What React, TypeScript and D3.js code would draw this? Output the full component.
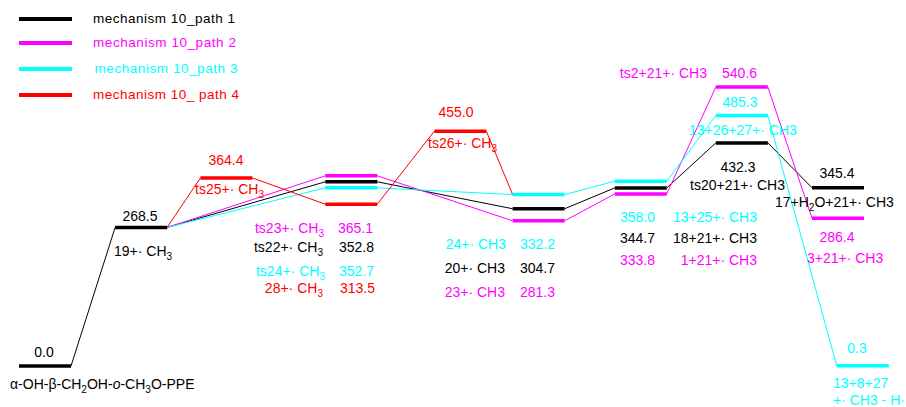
import React from "react";
import * as d3 from "d3";

// ---- data ----
const stageNames = [
  "α-OH-β-CH2OH-o-CH3O-PPE",
  "19+·CH3",
  "ts25+·CH3",
  "ts22/ts23/ts24/28+·CH3",
  "ts26+·CH3",
  "20/23/24+·CH3",
  "18/1/13+21/25+·CH3",
  "ts20/ts2/13+26+27",
  "17+H2O/3+21+·CH3",
  "13+8+27+·CH3-H·",
];
const stageCoord = [0, 0.97, 1.83, 3.09, 4.19, 4.98, 6.01, 7.03, 8, 8.25];

const seriesNames = [
  "mechanism 10_path 1",
  "mechanism 10_path 2",
  "mechanism 10_path 3",
  "mechanism 10_ path 4",
];
const seriesColors = ["#000000", "#ff00ff", "#00ffff", "#ff0000"];

const path1Stages = [0, 1, 3, 5, 6, 7, 8];
const path1Energy = [0.0, 268.5, 352.8, 304.7, 344.7, 432.3, 345.4];
const path2Stages = [0, 1, 3, 5, 6, 7, 8];
const path2Energy = [0.0, 268.5, 365.1, 281.3, 333.8, 540.6, 286.4];
const path3Stages = [0, 1, 3, 5, 6, 7, 9];
const path3Energy = [0.0, 268.5, 352.7, 332.2, 358.0, 485.3, 0.3];
const path4Stages = [0, 1, 2, 3, 4, 5];
const path4Energy = [0.0, 268.5, 364.4, 313.5, 455.0, 332.2];

const seriesStages = [path1Stages, path2Stages, path3Stages, path4Stages];
const seriesEnergy = [path1Energy, path2Energy, path3Energy, path4Energy];

// ---- layout ----
const W = 906;
const H = 407;
const BAR_W = 52;
const MIN_GAP = 6;
const FONT = "'Liberation Sans', Arial, Helvetica, sans-serif";

const x = d3.scaleLinear().domain([0, 8]).range([19, 812]);
const y = d3.scaleLinear().domain([0, 540.6]).range([366, 87]);

type Node = { stage: number; e: number; y: number; color: string };

function buildNodes() {
  const map = new Map<string, Node>();
  seriesStages.forEach((st, si) => {
    st.forEach((s, i) => {
      const k = s + "|" + seriesEnergy[si][i];
      if (!map.has(k))
        map.set(k, { stage: s, e: seriesEnergy[si][i], y: y(seriesEnergy[si][i]), color: seriesColors[si] });
    });
  });
  // separate levels in the same stage that would overlap
  const byStage = d3.group(Array.from(map.values()), (d) => d.stage);
  byStage.forEach((list) => {
    list.sort((a, b) => a.y - b.y);
    for (let it = 0; it < 60; it++) {
      for (let i = 0; i < list.length - 1; i++) {
        const gap = list[i + 1].y - list[i].y;
        if (gap < MIN_GAP) {
          const d = (MIN_GAP - gap) / 2;
          list[i].y -= d;
          list[i + 1].y += d;
        }
      }
    }
  });
  return map;
}

type Seg = string | { sub: string } | { it: string };

function Label({ x, y, anchor = "start", color, segs, size = 14 }: any) {
  const parts: any[] = [];
  let shift = 0;
  const arr: Seg[] = typeof segs === "string" ? [segs] : segs;
  arr.forEach((s, i) => {
    if (typeof s === "string") {
      parts.push(
        <tspan key={i} dy={-shift}>
          {s}
        </tspan>
      );
      shift = 0;
    } else if ("sub" in s) {
      parts.push(
        <tspan key={i} dy={4 - shift} fontSize={size * 0.72}>
          {s.sub}
        </tspan>
      );
      shift = 4;
    } else {
      parts.push(
        <tspan key={i} dy={-shift} fontStyle="italic">
          {s.it}
        </tspan>
      );
      shift = 0;
    }
  });
  return (
    <text x={x} y={y} textAnchor={anchor} fill={color} fontSize={size} fontFamily={FONT}>
      {parts}
    </text>
  );
}

const K = seriesColors[0];
const M = seriesColors[1];
const C = seriesColors[2];
const R = seriesColors[3];

const labels: any[] = [
  { x: 44, y: 357, anchor: "middle", color: K, segs: "0.0" },
  { x: 10, y: 389, color: K, segs: ["α-OH-β-CH", { sub: "2" }, "OH-", { it: "o" }, "-CH", { sub: "3" }, "O-PPE"] },
  { x: 140, y: 221, anchor: "middle", color: K, segs: "268.5" },
  { x: 114, y: 256, color: K, segs: ["19+· CH", { sub: "3" }] },
  { x: 226, y: 165, anchor: "middle", color: R, segs: "364.4" },
  { x: 195, y: 194, color: R, segs: ["ts25+· CH", { sub: "3" }] },
  { x: 324, y: 233, anchor: "end", color: M, segs: ["ts23+· CH", { sub: "3" }] },
  { x: 338, y: 233, color: M, segs: "365.1" },
  { x: 323, y: 252, anchor: "end", color: K, segs: ["ts22+· CH", { sub: "3" }] },
  { x: 339, y: 252, color: K, segs: "352.8" },
  { x: 325, y: 276, anchor: "end", color: C, segs: ["ts24+· CH", { sub: "3" }] },
  { x: 339, y: 276, color: C, segs: "352.7" },
  { x: 323, y: 293, anchor: "end", color: R, segs: ["28+· CH", { sub: "3" }] },
  { x: 340, y: 293, color: R, segs: "313.5" },
  { x: 456, y: 117, anchor: "middle", color: R, segs: "455.0" },
  { x: 428, y: 148, color: R, segs: ["ts26+· CH", { sub: "3" }] },
  { x: 506, y: 249, anchor: "end", color: C, segs: "24+· CH3" },
  { x: 520, y: 249, color: C, segs: "332.2" },
  { x: 505, y: 273, anchor: "end", color: K, segs: "20+· CH3" },
  { x: 520, y: 273, color: K, segs: "304.7" },
  { x: 505, y: 297, anchor: "end", color: M, segs: "23+· CH3" },
  { x: 520, y: 297, color: M, segs: "281.3" },
  { x: 620, y: 222, color: C, segs: "358.0" },
  { x: 757, y: 222, anchor: "end", color: C, segs: "13+25+· CH3" },
  { x: 620, y: 243, color: K, segs: "344.7" },
  { x: 757, y: 243, anchor: "end", color: K, segs: "18+21+· CH3" },
  { x: 620, y: 265, color: M, segs: "333.8" },
  { x: 757, y: 265, anchor: "end", color: M, segs: "1+21+· CH3" },
  { x: 707, y: 78, anchor: "end", color: M, segs: "ts2+21+· CH3" },
  { x: 722, y: 78, color: M, segs: "540.6" },
  { x: 740, y: 107, anchor: "middle", color: C, segs: "485.3" },
  { x: 689, y: 135, color: C, segs: "13+26+27+· CH3" },
  { x: 738, y: 172, anchor: "middle", color: K, segs: "432.3" },
  { x: 690, y: 190, color: K, segs: "ts20+21+· CH3" },
  { x: 837, y: 178, anchor: "middle", color: K, segs: "345.4" },
  { x: 775, y: 207, color: K, segs: ["17+H", { sub: "2" }, "O+21+· CH3"] },
  { x: 837, y: 242, anchor: "middle", color: M, segs: "286.4" },
  { x: 807, y: 263, color: M, segs: "3+21+· CH3" },
  { x: 857, y: 353, anchor: "middle", color: C, segs: "0.3" },
  { x: 833, y: 388, color: C, segs: "13+8+27" },
  { x: 833, y: 405, color: C, segs: "+· CH3 - H·" },
];

const legendY = [19, 43, 69, 95];
const legendTextX = [93, 93, 94.5, 93];
const legendTextW = [142, 143, 143, 146];

export default function App() {
  const nodes = buildNodes();
  const nodeOf = (s: number, e: number) => nodes.get(s + "|" + e)!;

  const segs: { x1: number; y1: number; x2: number; y2: number; color: string; key: string }[] = [];
  const seen = new Set<string>();
  seriesStages.forEach((st, si) => {
    for (let i = 0; i < st.length - 1; i++) {
      const a = nodeOf(st[i], seriesEnergy[si][i]);
      const b = nodeOf(st[i + 1], seriesEnergy[si][i + 1]);
      const key = `${a.stage}|${a.e}->${b.stage}|${b.e}`;
      if (seen.has(key)) continue;
      seen.add(key);
      segs.push({
        x1: x(stageCoord[a.stage]) + BAR_W,
        y1: a.y,
        x2: x(stageCoord[b.stage]),
        y2: b.y,
        color: seriesColors[si],
        key,
      });
    }
  });

  return (
    <svg
      width={W}
      height={H}
      style={{ position: "absolute", left: 0, top: 0, background: "#fff" }}
    >
      <rect x={0} y={0} width={W} height={H} fill="#fff" />
      {seriesNames.map((n, i) => (
        <g key={n}>
          <line x1={19} x2={72} y1={legendY[i]} y2={legendY[i]} stroke={seriesColors[i]} strokeWidth={4} />
          <text
            x={legendTextX[i]}
            y={legendY[i] + 4}
            fill={seriesColors[i]}
            fontSize={13.5}
            fontFamily={FONT}
            textLength={legendTextW[i]}
          >
            {n}
          </text>
        </g>
      ))}
      {segs.map((s) => (
        <line key={s.key} x1={s.x1} y1={s.y1} x2={s.x2} y2={s.y2} stroke={s.color} strokeWidth={1} />
      ))}
      {Array.from(nodes.values()).map((n) => (
        <line
          key={n.stage + "|" + n.e}
          x1={x(stageCoord[n.stage])}
          x2={x(stageCoord[n.stage]) + BAR_W}
          y1={n.y}
          y2={n.y}
          stroke={n.color}
          strokeWidth={3.5}
        />
      ))}
      {labels.map((l, i) => (
        <Label key={i} {...l} />
      ))}
    </svg>
  );
}
